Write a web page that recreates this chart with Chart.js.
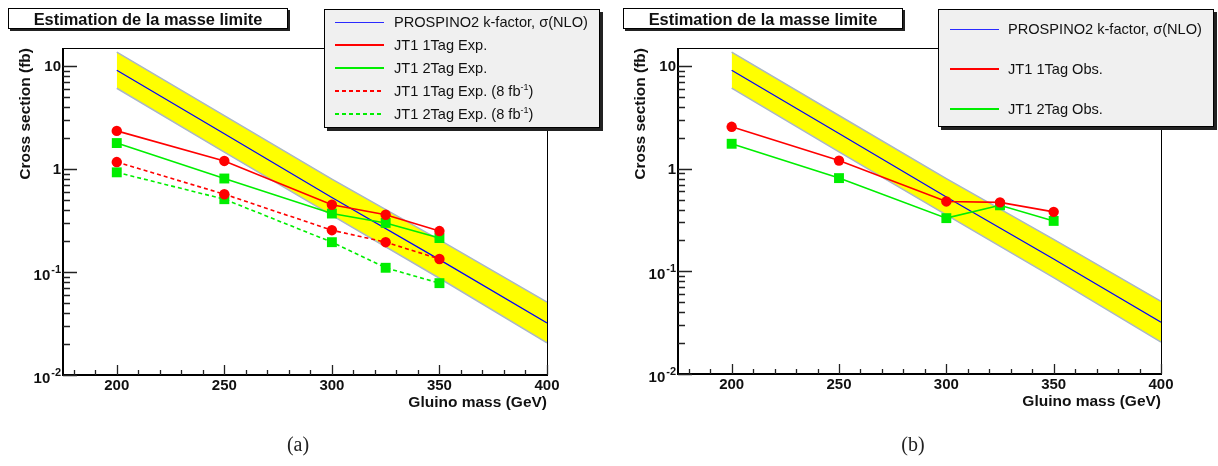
<!DOCTYPE html>
<html>
<head>
<meta charset="utf-8">
<script src="https://cdn.jsdelivr.net/npm/chart.js@4.4.1/dist/chart.umd.min.js"></script>
<style>
  body { margin: 0; background: #fff; width: 1218px; height: 466px; position: relative; overflow: hidden;
         font-family: "Liberation Sans", Arial, sans-serif; }
  canvas { position: absolute; top: 0; }
  .title { position: absolute; top: 8px; height: 21px; box-sizing: border-box; border: 1px solid #000;
           box-shadow: 2px 2px 0 #222; background: #fff; font-weight: bold; font-size: 16.4px;
           text-align: center; line-height: 20px; color: #111; }
  .legend { position: absolute; box-sizing: border-box; border: 1px solid #000; background: #f0f0f0;
            box-shadow: 3px 3px 0 #222; }
  .row { position: absolute; left: 0; right: 0; height: 0; }
  .sample { position: absolute; width: 49px; height: 2px; top: -1px; }
  .txt { position: absolute; top: -9px; font-size: 14.6px; line-height: 18px; color: #111; white-space: nowrap; }
  .txt sup { font-size: 9px; vertical-align: 6px; line-height: 0; }
  .cap { position: absolute; top: 433px; width: 60px; text-align: center; font-family: "Liberation Serif", serif;
         font-size: 20px; color: #222; }
</style>
</head>
<body>
<canvas id="chartA" width="609" height="466" style="left:0"></canvas>
<canvas id="chartB" width="609" height="466" style="left:609px"></canvas>

<div class="title" style="left:8px;width:280px">Estimation de la masse limite</div>
<div class="title" style="left:623px;width:280px">Estimation de la masse limite</div>

<div class="legend" style="left:324px;top:9px;width:276px;height:119px">
  <div class="row" style="top:12px"><div class="sample" style="left:10px;height:1px;top:0;background:#2a2aff"></div><div class="txt" style="left:69px">PROSPINO2 k-factor, σ(NLO)</div></div>
  <div class="row" style="top:35px"><div class="sample" style="left:10px;background:#ff0000"></div><div class="txt" style="left:69px">JT1 1Tag Exp.</div></div>
  <div class="row" style="top:58px"><div class="sample" style="left:10px;background:#00ee00"></div><div class="txt" style="left:69px">JT1 2Tag Exp.</div></div>
  <div class="row" style="top:81px"><div class="sample" style="left:10px;background:repeating-linear-gradient(90deg,#ff0000 0 4px,transparent 4px 7px)"></div><div class="txt" style="left:69px">JT1 1Tag Exp. (8 fb<sup>-1</sup>)</div></div>
  <div class="row" style="top:104px"><div class="sample" style="left:10px;background:repeating-linear-gradient(90deg,#00ee00 0 4px,transparent 4px 7px)"></div><div class="txt" style="left:69px">JT1 2Tag Exp. (8 fb<sup>-1</sup>)</div></div>
</div>

<div class="legend" style="left:938px;top:9px;width:276px;height:118px">
  <div class="row" style="top:19px"><div class="sample" style="left:11px;height:1px;top:0;background:#2a2aff"></div><div class="txt" style="left:69px">PROSPINO2 k-factor, σ(NLO)</div></div>
  <div class="row" style="top:59px"><div class="sample" style="left:11px;background:#ff0000"></div><div class="txt" style="left:69px">JT1 1Tag Obs.</div></div>
  <div class="row" style="top:99px"><div class="sample" style="left:11px;background:#00ee00"></div><div class="txt" style="left:69px">JT1 2Tag Obs.</div></div>
</div>

<div class="cap" style="left:268px">(a)</div>
<div class="cap" style="left:883px">(b)</div>

<script>
// theory band, gluino mass in GeV, cross section in fb
const massBand = [200, 250, 300, 350, 400];
const prospinoNLO = [9.1, 2.2, 0.53, 0.132, 0.032];
const prospinoUp = [13.7, 3.3, 0.8, 0.205, 0.051];
const prospinoDown = [6.1, 1.46, 0.355, 0.087, 0.0205];

// limits
const massPoints = [200, 250, 300, 325, 350];
const exp1Tag = [2.35, 1.2, 0.45, 0.36, 0.25];
const exp2Tag = [1.79, 0.81, 0.37, 0.30, 0.214];
const exp1Tag8fb = [1.17, 0.57, 0.255, 0.195, 0.134];
const exp2Tag8fb = [0.93, 0.51, 0.195, 0.11, 0.078];
const obs1Tag = [2.56, 1.2, 0.48, 0.47, 0.38];
const obs2Tag = [1.75, 0.81, 0.33, 0.44, 0.31];

const xTickLabels = ['200', '250', '300', '350', '400'];
const yTickLabels = [[10, '10', ''], [1, '1', ''], [0.1, '10', '-1'], [0.01, '10', '-2']];

const pts = (xs, ys) => xs.map((x, i) => ({ x: x, y: ys[i] }));

function bandSets() {
    return [
        { data: pts(massBand, prospinoNLO), borderColor: '#0000ff', borderWidth: 1.2, pointRadius: 0, order: 5 },
        { data: pts(massBand, prospinoUp), borderColor: '#a9b6c8', borderWidth: 1.5, pointRadius: 0,
          fill: '+1', backgroundColor: '#ffff00', order: 10 },
        { data: pts(massBand, prospinoDown), borderColor: '#a9b6c8', borderWidth: 1.5, pointRadius: 0, order: 9 },
    ];
}

function limitSet(ys, color, circle, dashed, order) {
    return {
        data: pts(massPoints, ys),
        borderColor: color, backgroundColor: color, borderWidth: 1.6,
        borderDash: dashed ? [4, 3] : [],
        pointStyle: circle ? 'circle' : 'rect',
        pointRadius: circle ? 5.2 : 7,
        pointBorderWidth: 0,
        order: order,
    };
}

const framePlugin = {
    id: 'frame',
    afterDraw(chart) {
        const { ctx, chartArea: a, scales } = chart;
        const x = scales.x, y = scales.y;
        ctx.save();
        ctx.strokeStyle = '#000';
        ctx.lineWidth = 1;
        ctx.strokeRect(a.left + 0.5, a.top + 0.5, a.right - a.left, a.bottom - a.top);
        ctx.lineWidth = 2;
        ctx.beginPath();
        ctx.moveTo(a.left, a.top);
        ctx.lineTo(a.left, a.bottom);
        ctx.lineTo(a.right + 1, a.bottom);
        ctx.stroke();

        // ticks
        ctx.strokeStyle = '#222';
        ctx.lineWidth = 1.3;
        ctx.beginPath();
        for (let m = 180; m <= 400; m += 10) {
            const px = Math.round(x.getPixelForValue(m)) + 0.5;
            const len = m % 50 === 0 ? 10 : 5;
            ctx.moveTo(px, a.bottom);
            ctx.lineTo(px, a.bottom - len);
        }
        for (let d = 0.01; d <= 10; d *= 10) {
            for (let k = 1; k <= 9; k++) {
                const v = d * k;
                if (v > 15) break;
                const py = Math.round(y.getPixelForValue(v)) + 0.5;
                ctx.moveTo(a.left, py);
                ctx.lineTo(a.left + (k === 1 ? 14 : 7), py);
            }
        }
        ctx.stroke();

        // tick labels
        ctx.fillStyle = '#111';
        ctx.font = 'bold 15px "Liberation Sans", Arial';
        ctx.textAlign = 'center';
        ctx.textBaseline = 'middle';
        xTickLabels.forEach(t => ctx.fillText(t, x.getPixelForValue(+t), a.bottom + 11));

        yTickLabels.forEach(([v, base, sup]) => {
            const py = y.getPixelForValue(v);
            const right = a.left - 2;
            ctx.font = 'bold 11px "Liberation Sans", Arial';
            const sw = sup ? ctx.measureText(sup).width + 1 : 0;
            if (sup) {
                ctx.textAlign = 'left';
                ctx.fillText(sup, right - sw + 1, py - 2);
            }
            ctx.font = 'bold 15px "Liberation Sans", Arial';
            ctx.textAlign = 'right';
            ctx.fillText(base, right - sw, py + (sup ? 4 : 1));
        });

        // axis titles
        ctx.font = 'bold 15.5px "Liberation Sans", Arial';
        ctx.textAlign = 'right';
        ctx.fillText('Gluino mass (GeV)', a.right, a.bottom + 28);
        ctx.translate(a.left - 37.5, a.top);
        ctx.rotate(-Math.PI / 2);
        ctx.fillText('Cross section (fb)', 0, 0);
        ctx.restore();
    }
};

function makeChart(id, limits, pad) {
    new Chart(document.getElementById(id), {
        type: 'line',
        data: { datasets: bandSets().concat(limits) },
        options: {
            responsive: false,
            animation: false,
            layout: { padding: pad },
            plugins: { legend: { display: false }, tooltip: { enabled: false } },
            scales: {
                x: { type: 'linear', min: 175, max: 400, display: false },
                y: { type: 'logarithmic', min: 0.01, max: 15, display: false },
            },
        },
        plugins: [framePlugin],
    });
}

makeChart('chartA', [
    limitSet(exp1Tag, '#ff0000', true, false, 1),
    limitSet(exp2Tag, '#00ee00', false, false, 2),
    limitSet(exp1Tag8fb, '#ff0000', true, true, 3),
    limitSet(exp2Tag8fb, '#00ee00', false, true, 4),
], { left: 63, right: 62, top: 48, bottom: 91 });

makeChart('chartB', [
    limitSet(obs1Tag, '#ff0000', true, false, 1),
    limitSet(obs2Tag, '#00ee00', false, false, 2),
], { left: 69, right: 57, top: 48, bottom: 92 });
</script>
</body>
</html>
